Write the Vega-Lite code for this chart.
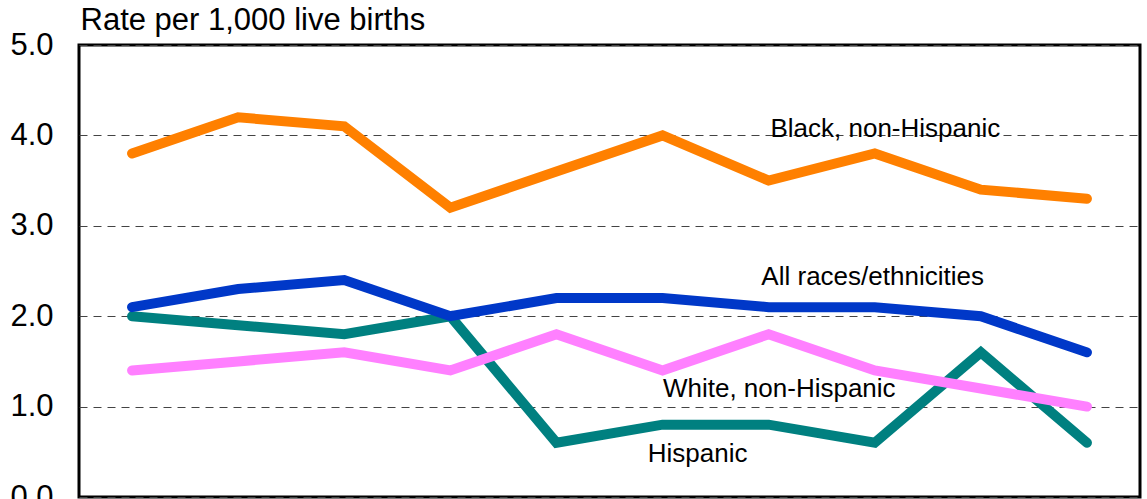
{
  "$schema": "https://vega.github.io/schema/vega-lite/v6.json",
  "width": 1061,
  "height": 452,
  "autosize": "none",
  "padding": {"left": 79, "top": 45, "right": 7, "bottom": 2},
  "background": "white",
  "config": {
    "font": "Liberation Sans",
    "view": {"stroke": "black", "strokeWidth": 3}
  },
  "datasets": {
    "series": [
      {"year": 1995, "group": "Black, non-Hispanic", "rate": 3.8},
      {"year": 1996, "group": "Black, non-Hispanic", "rate": 4.2},
      {"year": 1997, "group": "Black, non-Hispanic", "rate": 4.1},
      {"year": 1998, "group": "Black, non-Hispanic", "rate": 3.2},
      {"year": 1999, "group": "Black, non-Hispanic", "rate": 3.6},
      {"year": 2000, "group": "Black, non-Hispanic", "rate": 4.0},
      {"year": 2001, "group": "Black, non-Hispanic", "rate": 3.5},
      {"year": 2002, "group": "Black, non-Hispanic", "rate": 3.8},
      {"year": 2003, "group": "Black, non-Hispanic", "rate": 3.4},
      {"year": 2004, "group": "Black, non-Hispanic", "rate": 3.3},
      {"year": 1995, "group": "Hispanic", "rate": 2.0},
      {"year": 1996, "group": "Hispanic", "rate": 1.9},
      {"year": 1997, "group": "Hispanic", "rate": 1.8},
      {"year": 1998, "group": "Hispanic", "rate": 2.0},
      {"year": 1999, "group": "Hispanic", "rate": 0.6},
      {"year": 2000, "group": "Hispanic", "rate": 0.8},
      {"year": 2001, "group": "Hispanic", "rate": 0.8},
      {"year": 2002, "group": "Hispanic", "rate": 0.6},
      {"year": 2003, "group": "Hispanic", "rate": 1.6},
      {"year": 2004, "group": "Hispanic", "rate": 0.6},
      {"year": 1995, "group": "White, non-Hispanic", "rate": 1.4},
      {"year": 1996, "group": "White, non-Hispanic", "rate": 1.5},
      {"year": 1997, "group": "White, non-Hispanic", "rate": 1.6},
      {"year": 1998, "group": "White, non-Hispanic", "rate": 1.4},
      {"year": 1999, "group": "White, non-Hispanic", "rate": 1.8},
      {"year": 2000, "group": "White, non-Hispanic", "rate": 1.4},
      {"year": 2001, "group": "White, non-Hispanic", "rate": 1.8},
      {"year": 2002, "group": "White, non-Hispanic", "rate": 1.4},
      {"year": 2003, "group": "White, non-Hispanic", "rate": 1.2},
      {"year": 2004, "group": "White, non-Hispanic", "rate": 1.0},
      {"year": 1995, "group": "All races/ethnicities", "rate": 2.1},
      {"year": 1996, "group": "All races/ethnicities", "rate": 2.3},
      {"year": 1997, "group": "All races/ethnicities", "rate": 2.4},
      {"year": 1998, "group": "All races/ethnicities", "rate": 2.0},
      {"year": 1999, "group": "All races/ethnicities", "rate": 2.2},
      {"year": 2000, "group": "All races/ethnicities", "rate": 2.2},
      {"year": 2001, "group": "All races/ethnicities", "rate": 2.1},
      {"year": 2002, "group": "All races/ethnicities", "rate": 2.1},
      {"year": 2003, "group": "All races/ethnicities", "rate": 2.0},
      {"year": 2004, "group": "All races/ethnicities", "rate": 1.6}
    ],
    "labels": [
      {"group": "Black, non-Hispanic", "year": 2002.1, "rate": 3.98},
      {"group": "All races/ethnicities", "year": 2001.98, "rate": 2.34},
      {"group": "White, non-Hispanic", "year": 2001.1, "rate": 1.11},
      {"group": "Hispanic", "year": 2000.33, "rate": 0.39}
    ]
  },
  "layer": [
    {
      "data": {"name": "series"},
      "mark": {"type": "line", "strokeWidth": 10, "strokeCap": "round", "strokeJoin": "miter"},
      "encoding": {
        "x": {"field": "year", "type": "quantitative", "scale": {"domain": [1994.5, 2004.5], "nice": false, "zero": false}, "axis": null},
        "y": {
          "field": "rate", "type": "quantitative",
          "scale": {"domain": [0, 5], "nice": false},
          "axis": {
            "values": [0, 1, 2, 3, 4, 5],
            "format": ".1f",
            "ticks": false,
            "domain": false,
            "labelFontSize": 31,
            "labelColor": "black",
            "labelPadding": 26,
            "grid": true,
            "gridColor": "#444444",
            "gridWidth": 1,
            "gridDash": [8, 6],
            "title": "Rate per 1,000 live births",
            "titleAngle": 0,
            "titleAlign": "left",
            "titleBaseline": "alphabetic",
            "titleX": 1,
            "titleY": -16,
            "titleFontSize": 31,
            "titleFontWeight": "normal",
            "titleColor": "black"
          }
        },
        "color": {
          "field": "group", "type": "nominal",
          "scale": {
            "domain": ["Black, non-Hispanic", "Hispanic", "White, non-Hispanic", "All races/ethnicities"],
            "range": ["#FF8000", "#008080", "#FF80FF", "#0038C8"]
          },
          "legend": null
        },
        "order": {"field": "year"}
      }
    },
    {
      "data": {"name": "labels"},
      "mark": {"type": "text", "fontSize": 26, "color": "black", "align": "center", "baseline": "alphabetic"},
      "encoding": {
        "x": {"field": "year", "type": "quantitative"},
        "y": {"field": "rate", "type": "quantitative"},
        "text": {"field": "group"}
      }
    }
  ]
}
